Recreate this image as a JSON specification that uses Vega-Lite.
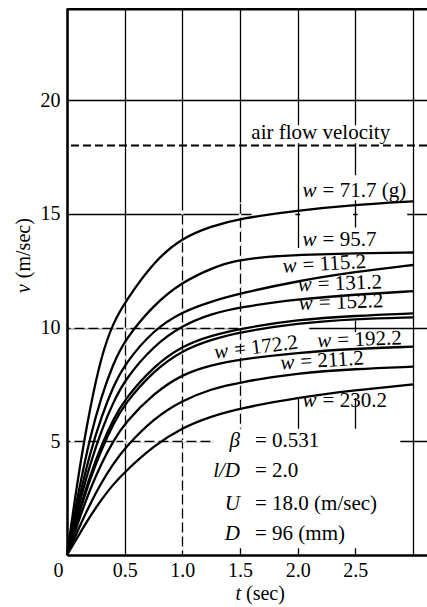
{
  "$schema": "https://vega.github.io/schema/vega-lite/v6.json",
  "width": 360,
  "height": 547,
  "autosize": {"type": "none"},
  "padding": {"left": 67, "top": 8, "right": 0, "bottom": 52},
  "background": "white",
  "config": {
    "view": {"stroke": null},
    "font": "Liberation Serif",
    "text": {"font": "Liberation Serif", "fontSize": 21, "color": "black"}
  },
  "datasets": {
    "curves": [
      {"w": "71.7", "t": 0, "v": 0}, {"w": "71.7", "t": 0.1, "v": 3.6}, {"w": "71.7", "t": 0.2, "v": 6.5}, {"w": "71.7", "t": 0.3, "v": 8.8}, {"w": "71.7", "t": 0.4, "v": 10.2}, {"w": "71.7", "t": 0.5, "v": 11.1}, {"w": "71.7", "t": 0.75, "v": 12.9}, {"w": "71.7", "t": 1.0, "v": 13.95}, {"w": "71.7", "t": 1.25, "v": 14.45}, {"w": "71.7", "t": 1.5, "v": 14.8}, {"w": "71.7", "t": 2.0, "v": 15.15}, {"w": "71.7", "t": 2.5, "v": 15.4}, {"w": "71.7", "t": 3.0, "v": 15.55},
      {"w": "95.7", "t": 0, "v": 0}, {"w": "95.7", "t": 0.1, "v": 2.8}, {"w": "95.7", "t": 0.2, "v": 5.2}, {"w": "95.7", "t": 0.3, "v": 7.0}, {"w": "95.7", "t": 0.4, "v": 8.4}, {"w": "95.7", "t": 0.5, "v": 9.45}, {"w": "95.7", "t": 0.75, "v": 11.0}, {"w": "95.7", "t": 1.0, "v": 12.0}, {"w": "95.7", "t": 1.25, "v": 12.6}, {"w": "95.7", "t": 1.45, "v": 12.95}, {"w": "95.7", "t": 1.75, "v": 13.12}, {"w": "95.7", "t": 2.0, "v": 13.2}, {"w": "95.7", "t": 2.5, "v": 13.27}, {"w": "95.7", "t": 3.0, "v": 13.3},
      {"w": "115.2", "t": 0, "v": 0}, {"w": "115.2", "t": 0.1, "v": 2.4}, {"w": "115.2", "t": 0.2, "v": 4.5}, {"w": "115.2", "t": 0.3, "v": 6.1}, {"w": "115.2", "t": 0.4, "v": 7.4}, {"w": "115.2", "t": 0.5, "v": 8.4}, {"w": "115.2", "t": 0.75, "v": 9.9}, {"w": "115.2", "t": 1.0, "v": 10.7}, {"w": "115.2", "t": 1.25, "v": 11.15}, {"w": "115.2", "t": 1.5, "v": 11.5}, {"w": "115.2", "t": 2.0, "v": 12.05}, {"w": "115.2", "t": 2.5, "v": 12.45}, {"w": "115.2", "t": 3.0, "v": 12.75},
      {"w": "131.2", "t": 0, "v": 0}, {"w": "131.2", "t": 0.1, "v": 2.15}, {"w": "131.2", "t": 0.2, "v": 4.0}, {"w": "131.2", "t": 0.3, "v": 5.5}, {"w": "131.2", "t": 0.4, "v": 6.7}, {"w": "131.2", "t": 0.5, "v": 7.7}, {"w": "131.2", "t": 0.75, "v": 9.2}, {"w": "131.2", "t": 1.0, "v": 10.1}, {"w": "131.2", "t": 1.25, "v": 10.6}, {"w": "131.2", "t": 1.5, "v": 10.9}, {"w": "131.2", "t": 2.0, "v": 11.25}, {"w": "131.2", "t": 2.5, "v": 11.45}, {"w": "131.2", "t": 3.0, "v": 11.6},
      {"w": "152.2", "t": 0, "v": 0}, {"w": "152.2", "t": 0.1, "v": 1.85}, {"w": "152.2", "t": 0.2, "v": 3.5}, {"w": "152.2", "t": 0.3, "v": 4.85}, {"w": "152.2", "t": 0.4, "v": 5.95}, {"w": "152.2", "t": 0.5, "v": 6.85}, {"w": "152.2", "t": 0.75, "v": 8.3}, {"w": "152.2", "t": 1.0, "v": 9.2}, {"w": "152.2", "t": 1.25, "v": 9.65}, {"w": "152.2", "t": 1.5, "v": 9.95}, {"w": "152.2", "t": 2.0, "v": 10.35}, {"w": "152.2", "t": 2.5, "v": 10.52}, {"w": "152.2", "t": 3.0, "v": 10.62},
      {"w": "172.2", "t": 0, "v": 0}, {"w": "172.2", "t": 0.1, "v": 1.75}, {"w": "172.2", "t": 0.2, "v": 3.35}, {"w": "172.2", "t": 0.3, "v": 4.65}, {"w": "172.2", "t": 0.4, "v": 5.75}, {"w": "172.2", "t": 0.5, "v": 6.65}, {"w": "172.2", "t": 0.75, "v": 8.1}, {"w": "172.2", "t": 1.0, "v": 9.0}, {"w": "172.2", "t": 1.25, "v": 9.47}, {"w": "172.2", "t": 1.5, "v": 9.8}, {"w": "172.2", "t": 2.0, "v": 10.2}, {"w": "172.2", "t": 2.5, "v": 10.38}, {"w": "172.2", "t": 3.0, "v": 10.45},
      {"w": "192.2", "t": 0, "v": 0}, {"w": "192.2", "t": 0.1, "v": 1.5}, {"w": "192.2", "t": 0.2, "v": 2.9}, {"w": "192.2", "t": 0.3, "v": 4.05}, {"w": "192.2", "t": 0.4, "v": 5.0}, {"w": "192.2", "t": 0.5, "v": 5.8}, {"w": "192.2", "t": 0.75, "v": 7.1}, {"w": "192.2", "t": 1.0, "v": 7.95}, {"w": "192.2", "t": 1.25, "v": 8.35}, {"w": "192.2", "t": 1.5, "v": 8.6}, {"w": "192.2", "t": 2.0, "v": 8.9}, {"w": "192.2", "t": 2.5, "v": 9.07}, {"w": "192.2", "t": 3.0, "v": 9.16},
      {"w": "211.2", "t": 0, "v": 0}, {"w": "211.2", "t": 0.1, "v": 1.15}, {"w": "211.2", "t": 0.2, "v": 2.25}, {"w": "211.2", "t": 0.3, "v": 3.2}, {"w": "211.2", "t": 0.4, "v": 4.0}, {"w": "211.2", "t": 0.5, "v": 4.7}, {"w": "211.2", "t": 0.75, "v": 6.0}, {"w": "211.2", "t": 1.0, "v": 6.8}, {"w": "211.2", "t": 1.25, "v": 7.3}, {"w": "211.2", "t": 1.5, "v": 7.6}, {"w": "211.2", "t": 2.0, "v": 8.0}, {"w": "211.2", "t": 2.5, "v": 8.18}, {"w": "211.2", "t": 3.0, "v": 8.28},
      {"w": "230.2", "t": 0, "v": 0}, {"w": "230.2", "t": 0.1, "v": 0.85}, {"w": "230.2", "t": 0.2, "v": 1.7}, {"w": "230.2", "t": 0.3, "v": 2.45}, {"w": "230.2", "t": 0.4, "v": 3.1}, {"w": "230.2", "t": 0.5, "v": 3.65}, {"w": "230.2", "t": 0.75, "v": 4.8}, {"w": "230.2", "t": 1.0, "v": 5.6}, {"w": "230.2", "t": 1.25, "v": 6.1}, {"w": "230.2", "t": 1.5, "v": 6.45}, {"w": "230.2", "t": 2.0, "v": 6.92}, {"w": "230.2", "t": 2.5, "v": 7.25}, {"w": "230.2", "t": 3.0, "v": 7.5}
    ],
    "boxes": [
      {"t1": 1.27, "t2": 2.89, "v1": 0.3, "v2": 5.55},
      {"t1": 1.85, "t2": 2.9, "v1": 10.3, "v2": 13.5},
      {"t1": 1.85, "t2": 2.9, "v1": 6.9, "v2": 9.8},
      {"t1": 1.52, "t2": 2.1, "v1": 9.8, "v2": 10.3},
      {"t1": 1.6, "t2": 1.98, "v1": 14.85, "v2": 15.15},
      {"t1": 2.02, "t2": 2.48, "v1": 14.85, "v2": 15.15},
      {"t1": 2.52, "t2": 2.95, "v1": 14.85, "v2": 15.15},
      {"t1": 1.55, "t2": 2.95, "v1": 18.1, "v2": 18.9},
      {"t1": 2.1, "t2": 2.92, "v1": 15.6, "v2": 16.7},
      {"t1": 2.3, "t2": 2.9, "v1": 13.5, "v2": 14.4}
    ],
    "vgaps": [
      {"t": 0.5, "v1": 4.9, "v2": 11.3},
      {"t": 1.0, "v1": 0.2, "v2": 15.2},
      {"t": 1.5, "v1": 5.6, "v2": 15.5}
    ],
    "hgaps": [
      {"v": 10, "t1": 0.03, "t2": 1.52},
      {"v": 5, "t1": 0.03, "t2": 1.27}
    ],
    "one": [{"k": 1}],
    "air": [{"txt": "air flow velocity", "t": 2.2, "v": 18.3}],
    "lab0": [
      {"lab": "= 71.7 (g)", "t": 2.19, "v": 15.75},
      {"lab": "= 95.7", "t": 2.19, "v": 13.6},
      {"lab": "= 230.2", "t": 2.19, "v": 6.52}
    ],
    "lab2": [
      {"lab": "= 131.2", "t": 2.15, "v": 11.62},
      {"lab": "= 152.2", "t": 2.16, "v": 10.8},
      {"lab": "= 192.2", "t": 2.32, "v": 9.16}
    ],
    "lab35": [
      {"lab": "= 115.2", "t": 2.02, "v": 12.45},
      {"lab": "= 211.2", "t": 2.0, "v": 8.2}
    ],
    "lab7": [
      {"lab": "= 172.2", "t": 1.43, "v": 8.72}
    ],
    "params": [
      {"sym": "β", "val": "= 0.531", "v": 4.76},
      {"sym": "l/D", "val": "= 2.0", "v": 3.44},
      {"sym": "U", "val": "= 18.0 (m/sec)", "v": 1.98},
      {"sym": "D", "val": "= 96 (mm)", "v": 0.66}
    ]
  },
  "layer": [
    {
      "data": {"name": "boxes"},
      "mark": {"type": "rect", "fill": "white", "stroke": null},
      "encoding": {
        "x": {
          "field": "t1", "type": "quantitative",
          "scale": {"domain": [0, 3.1214], "nice": false, "zero": false},
          "title": null,
          "axis": {
            "values": [0, 0.5, 1, 1.5, 2, 2.5, 3],
            "labelExpr": "datum.value == 0 ? '0' : datum.value == 3 ? '' : format(datum.value, '.1f')",
            "grid": true, "gridColor": "black", "gridWidth": 1.3, "gridOpacity": 1,
            "domain": true, "domainColor": "black", "domainWidth": 2.5,
            "ticks": false,
            "labelFont": "Liberation Serif", "labelFontSize": 20, "labelColor": "black",
            "labelPadding": 5, "labelFlush": false, "labelOverlap": false,
            "labelOffset": {"condition": {"test": "datum.value == 0", "value": -9}, "value": 0}
          }
        },
        "x2": {"field": "t2"},
        "y": {
          "field": "v1", "type": "quantitative",
          "scale": {"domain": [0, 24.05], "nice": false, "zero": false},
          "title": null,
          "axis": {
            "values": [5, 10, 15, 20],
            "grid": true, "gridColor": "black", "gridWidth": 1.3, "gridOpacity": 1,
            "domain": true, "domainColor": "black", "domainWidth": 2.5,
            "ticks": false,
            "labelFont": "Liberation Serif", "labelFontSize": 20, "labelColor": "black",
            "labelPadding": 7, "labelOverlap": false, "labelFlush": false
          }
        },
        "y2": {"field": "v2"}
      }
    },
    {
      "data": {"name": "vgaps"},
      "mark": {"type": "rule", "color": "white", "strokeWidth": 2.4, "strokeDash": [4, 10]},
      "encoding": {
        "x": {"field": "t", "type": "quantitative"},
        "y": {"field": "v1", "type": "quantitative"},
        "y2": {"field": "v2"}
      }
    },
    {
      "data": {"name": "hgaps"},
      "mark": {"type": "rule", "color": "white", "strokeWidth": 2.4, "strokeDash": [4, 10]},
      "encoding": {
        "y": {"field": "v", "type": "quantitative"},
        "x": {"field": "t1", "type": "quantitative"},
        "x2": {"field": "t2"}
      }
    },
    {
      "data": {"name": "one"},
      "mark": {"type": "rule", "color": "black", "strokeWidth": 2.5},
      "encoding": {"y": {"datum": 24.0}}
    },
    {
      "data": {"name": "one"},
      "mark": {"type": "rule", "color": "black", "strokeWidth": 2, "strokeDash": [8, 4]},
      "encoding": {"y": {"datum": 18}}
    },
    {
      "data": {"name": "curves"},
      "mark": {"type": "line", "color": "black", "strokeWidth": 2.3, "interpolate": "basis"},
      "encoding": {
        "x": {"field": "t", "type": "quantitative"},
        "y": {"field": "v", "type": "quantitative"},
        "detail": {"field": "w"}
      }
    },
    {
      "data": {"name": "one"},
      "mark": {"type": "text", "align": "right", "baseline": "middle", "angle": -90, "fontStyle": "italic", "dx": -3, "fontSize": 20},
      "encoding": {"x": {"datum": -0.37}, "y": {"datum": 12.04}, "text": {"value": "v"}}
    },
    {
      "data": {"name": "one"},
      "mark": {"type": "text", "align": "left", "baseline": "middle", "angle": -90, "dx": 3, "fontSize": 20},
      "encoding": {"x": {"datum": -0.37}, "y": {"datum": 12.04}, "text": {"value": "(m/sec)"}}
    },
    {
      "data": {"name": "one"},
      "mark": {"type": "text", "align": "right", "baseline": "alphabetic", "fontStyle": "italic", "dx": -2, "fontSize": 20},
      "encoding": {"x": {"datum": 1.526}, "y": {"datum": -1.98}, "text": {"value": "t"}}
    },
    {
      "data": {"name": "one"},
      "mark": {"type": "text", "align": "left", "baseline": "alphabetic", "dx": 3, "fontSize": 20},
      "encoding": {"x": {"datum": 1.526}, "y": {"datum": -1.98}, "text": {"value": "(sec)"}}
    },
    {
      "data": {"name": "air"},
      "mark": {"type": "text", "align": "center", "baseline": "alphabetic"},
      "encoding": {
        "x": {"field": "t", "type": "quantitative"},
        "y": {"field": "v", "type": "quantitative"},
        "text": {"field": "txt"}
      }
    },
    {
      "data": {"name": "lab0"},
      "mark": {"type": "text", "align": "right", "baseline": "alphabetic", "fontStyle": "italic", "dx": -3},
      "encoding": {"x": {"field": "t", "type": "quantitative"}, "y": {"field": "v", "type": "quantitative"}, "text": {"value": "w"}}
    },
    {
      "data": {"name": "lab0"},
      "mark": {"type": "text", "align": "left", "baseline": "alphabetic", "dx": 3},
      "encoding": {"x": {"field": "t", "type": "quantitative"}, "y": {"field": "v", "type": "quantitative"}, "text": {"field": "lab"}}
    },
    {
      "data": {"name": "lab2"},
      "mark": {"type": "text", "align": "right", "baseline": "alphabetic", "fontStyle": "italic", "dx": -3, "angle": -2},
      "encoding": {"x": {"field": "t", "type": "quantitative"}, "y": {"field": "v", "type": "quantitative"}, "text": {"value": "w"}}
    },
    {
      "data": {"name": "lab2"},
      "mark": {"type": "text", "align": "left", "baseline": "alphabetic", "dx": 3, "angle": -2},
      "encoding": {"x": {"field": "t", "type": "quantitative"}, "y": {"field": "v", "type": "quantitative"}, "text": {"field": "lab"}}
    },
    {
      "data": {"name": "lab35"},
      "mark": {"type": "text", "align": "right", "baseline": "alphabetic", "fontStyle": "italic", "dx": -3, "angle": -3.5},
      "encoding": {"x": {"field": "t", "type": "quantitative"}, "y": {"field": "v", "type": "quantitative"}, "text": {"value": "w"}}
    },
    {
      "data": {"name": "lab35"},
      "mark": {"type": "text", "align": "left", "baseline": "alphabetic", "dx": 3, "angle": -3.5},
      "encoding": {"x": {"field": "t", "type": "quantitative"}, "y": {"field": "v", "type": "quantitative"}, "text": {"field": "lab"}}
    },
    {
      "data": {"name": "lab7"},
      "mark": {"type": "text", "align": "right", "baseline": "alphabetic", "fontStyle": "italic", "dx": -3, "angle": -7},
      "encoding": {"x": {"field": "t", "type": "quantitative"}, "y": {"field": "v", "type": "quantitative"}, "text": {"value": "w"}}
    },
    {
      "data": {"name": "lab7"},
      "mark": {"type": "text", "align": "left", "baseline": "alphabetic", "dx": 3, "angle": -7},
      "encoding": {"x": {"field": "t", "type": "quantitative"}, "y": {"field": "v", "type": "quantitative"}, "text": {"field": "lab"}}
    },
    {
      "data": {"name": "params"},
      "mark": {"type": "text", "align": "right", "baseline": "alphabetic", "fontStyle": "italic"},
      "encoding": {"x": {"datum": 1.5}, "y": {"field": "v", "type": "quantitative"}, "text": {"field": "sym"}}
    },
    {
      "data": {"name": "params"},
      "mark": {"type": "text", "align": "left", "baseline": "alphabetic"},
      "encoding": {"x": {"datum": 1.63}, "y": {"field": "v", "type": "quantitative"}, "text": {"field": "val"}}
    }
  ]
}
